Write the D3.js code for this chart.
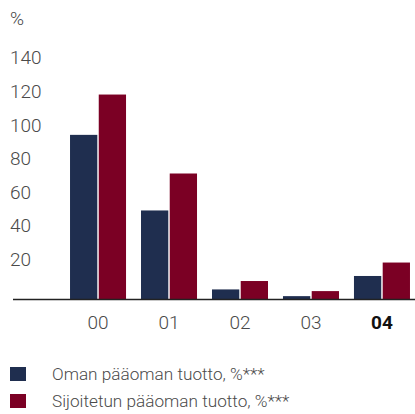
<!DOCTYPE html>
<html lang="fi">
<head>
    <meta charset="UTF-8">
    <title>Pääoman tuotto</title>
    <script src="https://d3js.org/d3.v7.min.js"></script>
    <style>
        body { margin: 0; background: white; }
        svg text { font-family: Roboto, "Liberation Sans", sans-serif; font-weight: 300; fill: #4a4a4a; }
        .tick-label { font-size: 19px; }
        .legend-label { font-size: 17.2px; }
        .current { font-weight: 700 !important; fill: #111 !important; }
    </style>
</head>
<body>
    <div id="chart"></div>
    <script>
        const years = ["00", "01", "02", "03", "04"];
        const series = ["Oman pääoman tuotto, %***", "Sijoitetun pääoman tuotto, %***"];
        const omanTuotto = [98, 53, 6, 2, 14];
        const sijoitetunTuotto = [122, 75, 11, 5, 22];
        const yTicks = [20, 40, 60, 80, 100, 120, 140];
        const colors = ["#1f2e4f", "#7b0024"];

        const data = years.map((yr, i) => ({ year: yr, values: [omanTuotto[i], sijoitetunTuotto[i]] }));

        const svg = d3.select("#chart").append("svg")
            .attr("width", 415)
            .attr("height", 414);

        const x = d3.scaleBand()
            .domain(years)
            .range([62.5, 417.5])
            .paddingInner(0.211)
            .paddingOuter(0.106);

        const x1 = d3.scaleBand()
            .domain([0, 1])
            .range([0, x.bandwidth()])
            .paddingInner(0.05);

        const y = d3.scaleLinear()
            .domain([0, 140])
            .range([299.5, 64.3]);

        // y tick labels, baseline sits on the value
        svg.selectAll(".ylab")
            .data(yTicks)
            .enter().append("text")
            .attr("class", "tick-label")
            .attr("x", 10)
            .attr("y", d => y(d))
            .text(d => d);

        svg.append("text")
            .attr("class", "tick-label")
            .attr("x", 10)
            .attr("y", 25)
            .text("%");

        const groups = svg.selectAll(".group")
            .data(data)
            .enter().append("g")
            .attr("transform", d => `translate(${x(d.year)},0)`);

        groups.selectAll("rect")
            .data(d => d.values.map((v, i) => ({ i, v })))
            .enter().append("rect")
            .attr("x", d => x1(d.i))
            .attr("width", x1.bandwidth())
            .attr("y", d => y(d.v))
            .attr("height", d => y(0) - y(d.v))
            .attr("fill", d => colors[d.i]);

        svg.append("line")
            .attr("x1", 13).attr("x2", 415)
            .attr("y1", y(0)).attr("y2", y(0))
            .attr("stroke", "#222")
            .attr("stroke-width", 1.5);

        svg.selectAll(".xlab")
            .data(years)
            .enter().append("text")
            .attr("class", (d, i) => i === years.length - 1 ? "tick-label current" : "tick-label")
            .attr("x", d => x(d) + x.bandwidth() / 2)
            .attr("y", 329)
            .attr("text-anchor", "middle")
            .text(d => d);

        const legend = svg.selectAll(".legend")
            .data(series)
            .enter().append("g")
            .attr("transform", (d, i) => `translate(10,${367 + i * 27})`);

        legend.append("rect")
            .attr("width", 16)
            .attr("height", 14)
            .attr("fill", (d, i) => colors[i]);

        legend.append("text")
            .attr("class", "legend-label")
            .attr("x", 42)
            .attr("y", 12.5)
            .text(d => d);
    </script>
</body>
</html>
